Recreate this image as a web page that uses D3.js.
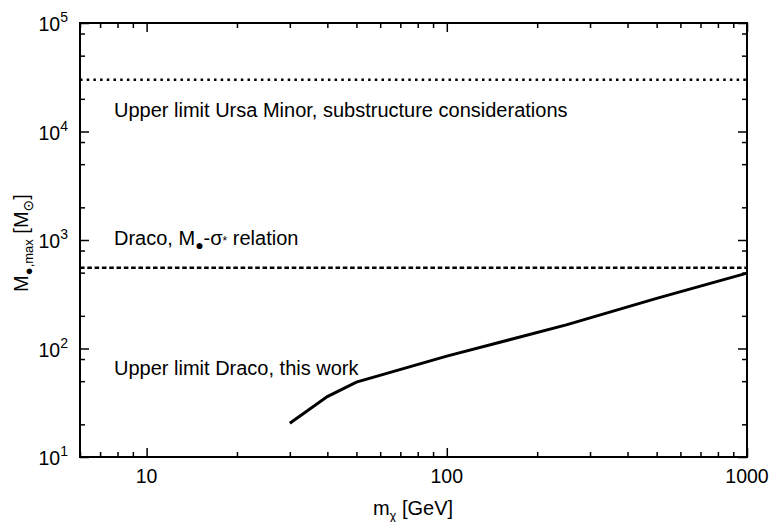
<!DOCTYPE html>
<html>
<head>
<meta charset="utf-8">
<script src="https://cdn.jsdelivr.net/npm/d3@7"></script>
<style>
  body { margin: 0; background: #fff; }
  text { font-family: "Liberation Sans", Arial, Helvetica, sans-serif; fill: #000; }
</style>
</head>
<body>
<svg width="774" height="522"></svg>
<script>
// data
const massGeV = [30, 40, 50, 100, 250, 500, 1000];
const mbhMax = [20.5, 36, 49, 85, 165, 290, 495];
const ursaMinorLimit = 3e4;     // dotted line
const dracoMSigma = 555;        // dashed line
const xMajor = [10, 100, 1000];
const yExponents = [1, 2, 3, 4, 5];

const plotL = 80, plotR = 747, plotT = 23, plotB = 457;
const svg = d3.select('svg');

const x = d3.scaleLog().domain([6, 1000]).range([plotL, plotR]);
const y = d3.scaleLog().domain([10, 1e5]).range([plotB, plotT]);

// minor ticks
const xMinor = [];
[1, 10, 100].forEach(d => { for (let k = 2; k <= 9; k++) { const v = d * k; if (v >= 6 && v <= 1000) xMinor.push(v); } });
const yMinor = [];
[10, 100, 1000, 10000].forEach(d => [2, 5, 8].forEach(k => yMinor.push(d * k)));

function ticks(axisFn, scale, vals, size, pos) {
  svg.append('g')
    .attr('transform', pos)
    .call(axisFn(scale).tickValues(vals).tickSize(size).tickFormat(''))
    .call(g => g.select('.domain').remove())
    .call(g => g.selectAll('line').attr('stroke', '#000').attr('stroke-width', 1.5));
}
ticks(d3.axisBottom, x, xMajor, -9, `translate(0,${plotB})`);
ticks(d3.axisBottom, x, xMinor, -5, `translate(0,${plotB})`);
ticks(d3.axisTop, x, xMajor, -9, `translate(0,${plotT})`);
ticks(d3.axisTop, x, xMinor, -5, `translate(0,${plotT})`);
const yMajorVals = yExponents.map(e => Math.pow(10, e));
ticks(d3.axisLeft, y, yMajorVals, -9, `translate(${plotL},0)`);
ticks(d3.axisLeft, y, yMinor, -5, `translate(${plotL},0)`);
ticks(d3.axisRight, y, yMajorVals, -9, `translate(${plotR},0)`);
ticks(d3.axisRight, y, yMinor, -5, `translate(${plotR},0)`);

// horizontal reference lines
svg.append('line')
  .attr('x1', plotL).attr('x2', plotR)
  .attr('y1', y(ursaMinorLimit)).attr('y2', y(ursaMinorLimit))
  .attr('stroke', '#000').attr('stroke-width', 2.5).attr('stroke-dasharray', '2.5,4.2');
svg.append('line')
  .attr('x1', plotL).attr('x2', plotR)
  .attr('y1', y(dracoMSigma)).attr('y2', y(dracoMSigma))
  .attr('stroke', '#000').attr('stroke-width', 2.5).attr('stroke-dasharray', '4.6,2.7');

// Draco upper limit curve
const line = d3.line().x(d => x(d[0])).y(d => y(d[1]));
svg.append('path')
  .datum(d3.zip(massGeV, mbhMax))
  .attr('d', line)
  .attr('fill', 'none').attr('stroke', '#000').attr('stroke-width', 3);

// frame
svg.append('rect')
  .attr('x', plotL).attr('y', plotT).attr('width', plotR - plotL).attr('height', plotB - plotT)
  .attr('fill', 'none').attr('stroke', '#000').attr('stroke-width', 2);

// x tick labels
svg.selectAll('.xl').data(xMajor).enter().append('text')
  .attr('x', d => x(d)).attr('y', 483)
  .attr('text-anchor', 'middle').attr('font-size', 19.5)
  .text(d => d);

// y tick labels 10^n
const yl = svg.selectAll('.yl').data(yExponents).enter().append('text')
  .attr('x', 68).attr('y', d => y(Math.pow(10, d)) + 8)
  .attr('text-anchor', 'end').attr('font-size', 19.5);
yl.append('tspan').text('10');
yl.append('tspan').attr('dy', -9).attr('font-size', 14).text(d => d);

// axis titles
const xt = svg.append('text').attr('x', 413).attr('y', 515)
  .attr('text-anchor', 'middle').attr('font-size', 20);
xt.append('tspan').text('m');
xt.append('tspan').attr('dy', 5).attr('font-size', 13).text('χ');
xt.append('tspan').attr('dy', -5).text(' [GeV]');

const yt = svg.append('text')
  .attr('transform', 'translate(28,243) rotate(-90)')
  .attr('text-anchor', 'middle').attr('font-size', 20);
yt.append('tspan').text('M');
yt.append('tspan').attr('dy', 5).attr('font-size', 13).text('●,max');
yt.append('tspan').attr('dy', -5).text(' [M');
yt.append('tspan').attr('dy', 5).attr('font-size', 14).attr('font-family', 'DejaVu Sans').text('⊙');
yt.append('tspan').attr('dy', -5).text(']');

// annotations
svg.append('text').attr('x', 114).attr('y', 117).attr('font-size', 20)
  .text('Upper limit Ursa Minor, substructure considerations');

const dr = svg.append('text').attr('x', 114).attr('y', 245).attr('font-size', 20);
dr.append('tspan').text('Draco, M');
dr.append('tspan').attr('dy', 5).attr('font-size', 14).text('●');
dr.append('tspan').attr('dy', -5).text('-σ');
dr.append('tspan').attr('font-size', 12).text('*');
dr.append('tspan').text(' relation');

svg.append('text').attr('x', 114).attr('y', 375).attr('font-size', 20)
  .text('Upper limit Draco, this work');
</script>
</body>
</html>
